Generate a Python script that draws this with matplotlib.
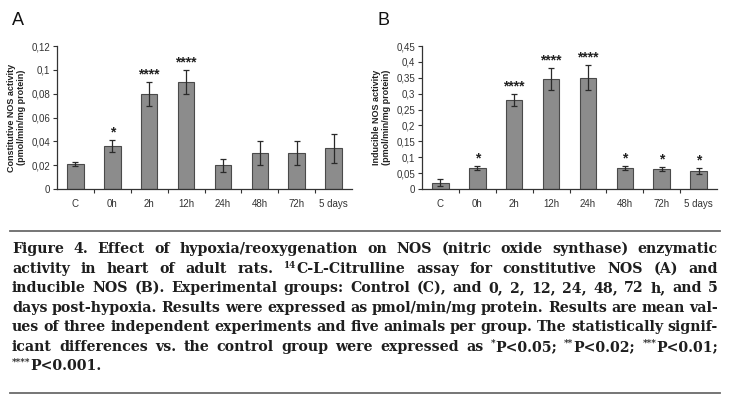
import matplotlib
matplotlib.use("Agg")
import matplotlib.pyplot as plt
from matplotlib.ticker import FixedLocator, FuncFormatter

# datos
grupos = ["C", "0h", "2h", "12h", "24h", "48h", "72h", "5 days"]

cnos_media = [0.021, 0.036, 0.080, 0.090, 0.020, 0.030, 0.030, 0.034]
cnos_err = [0.0015, 0.005, 0.010, 0.010, 0.0055, 0.010, 0.010, 0.012]
cnos_sig = ["", "*", "****", "****", "", "", "", ""]
cnos_ticks = [0, 0.02, 0.04, 0.06, 0.08, 0.1, 0.12]

inos_media = [0.020, 0.066, 0.280, 0.345, 0.350, 0.066, 0.064, 0.056]
inos_err = [0.011, 0.005, 0.020, 0.035, 0.040, 0.006, 0.006, 0.010]
inos_sig = ["", "*", "****", "****", "****", "*", "*", "*"]
inos_ticks = [0, 0.05, 0.1, 0.15, 0.2, 0.25, 0.3, 0.35, 0.4, 0.45]

caption = [
    [("Figure 4. Effect of hypoxia/reoxygenation on NOS (nitric oxide synthase) enzymatic", False)],
    [("activity in heart of adult rats. ", False), ("14", True),
     ("C-L-Citrulline assay for constitutive NOS (A) and", False)],
    [("inducible NOS (B). Experimental groups: Control (C), and 0, 2, 12, 24, 48, 72 h, and 5", False)],
    [("days post-hypoxia. Results were expressed as pmol/min/mg protein. Results are mean val-", False)],
    [("ues of three independent experiments and five animals per group. The statistically signif-", False)],
    [("icant differences vs. the control group were expressed as ", False), ("*", True),
     ("P<0.05; ", False), ("**", True), ("P<0.02; ", False), ("***", True),
     ("P<0.01;", False)],
    [("****", True), ("P<0.001.", False)],
]

W, H = 730, 397
fig = plt.figure(figsize=(W / 100, H / 100), dpi=100)
fig.patch.set_facecolor("white")
plt.rcParams["font.family"] = ["Liberation Sans", "DejaVu Sans"]


def panel(rect, medias, errs, sig, ticks, ylabel, letra, letra_x, fmt):
    ax = fig.add_axes(rect)
    x = range(len(grupos))
    ax.bar(x, medias, width=0.45, color="#8c8c8c", edgecolor="#4a4a4a",
           linewidth=0.8, zorder=2)
    ax.errorbar(x, medias, yerr=errs, fmt="none", ecolor="#2a2a2a",
                elinewidth=0.9, capsize=2.5, capthick=0.9, zorder=3)
    top = ticks[-1]
    for i, s in enumerate(sig):
        if s:
            ax.text(i, medias[i] + errs[i] + top * 0.004, s, ha="center",
                    va="bottom", fontsize=10, fontweight="bold", color="#222222")
    ax.set_xlim(-0.5, len(grupos) - 0.5)
    ax.set_ylim(0, top)
    ax.yaxis.set_major_locator(FixedLocator(ticks))
    ax.yaxis.set_major_formatter(FuncFormatter(fmt))
    ax.set_xticks(list(x))
    ax.set_xticklabels(grupos)
    ax.set_xticks([i - 0.5 for i in range(1, len(grupos))], minor=True)
    ax.tick_params(axis="x", which="major", length=0, pad=7, labelsize=7,
                   labelcolor="#333333")
    ax.tick_params(axis="x", which="minor", length=3, direction="out",
                   color="#333333", width=0.8)
    ax.tick_params(axis="y", length=3, direction="out", color="#333333",
                   width=0.8, labelsize=7, labelcolor="#333333", pad=2)
    for lado in ["top", "right"]:
        ax.spines[lado].set_visible(False)
    for lado in ["left", "bottom"]:
        ax.spines[lado].set_color("#333333")
        ax.spines[lado].set_linewidth(0.9)
    ax.set_ylabel(ylabel, fontsize=6.5, fontweight="bold", color="#222222",
                  labelpad=4, linespacing=1.1)
    fig.text(letra_x, 1 - 25 / H, letra, fontsize=13, color="#111111",
             ha="left", va="baseline")
    return ax


def coma(v, pos):
    s = ("%.2f" % v).rstrip("0").rstrip(".")
    return s.replace(".", ",")


panel([57 / W, 1 - 189 / H, 295 / W, 143 / H], cnos_media, cnos_err, cnos_sig,
      cnos_ticks, "Constitutive NOS activity\n(pmol/min/mg protein)", "A",
      12 / W, coma)
panel([422 / W, 1 - 189 / H, 295 / W, 143 / H], inos_media, inos_err, inos_sig,
      inos_ticks, "Inducible NOS activity\n(pmol/min/mg protein)", "B",
      377 / W, coma)

# reglas del pie de figura
for yy in [231, 393]:
    fig.add_artist(plt.Line2D([10 / W, 720 / W], [1 - yy / H, 1 - yy / H],
                              color="#6a6a6a", linewidth=1.3))

# pie de figura justificado, palabra por palabra
renderer = fig.canvas.get_renderer()
x0, x1 = 12, 718
base_y = [253, 273, 292, 312, 331, 351, 370]
fs = 10.2
estilo = dict(family="DejaVu Serif", fontweight="bold", color="#1e1e1e")


def medir(t):
    bb = t.get_window_extent(renderer=renderer)
    return bb.width


for n, linea in enumerate(caption):
    # separar en palabras, cada palabra con sus trozos
    palabras = [[]]
    for texto, sup in linea:
        partes = texto.split(" ")
        for k, p in enumerate(partes):
            if k > 0:
                palabras.append([])
            if p:
                palabras[-1].append((p, sup))
    palabras = [p for p in palabras if p]
    artistas = []
    anchos = []
    for pal in palabras:
        arts = []
        w = 0
        for texto, sup in pal:
            t = fig.text(0, 0, texto, fontsize=fs * (0.62 if sup else 1),
                         va="baseline", ha="left", **estilo)
            ancho = medir(t)
            arts.append((t, sup, w))
            w += ancho
        artistas.append(arts)
        anchos.append(w)
    espacio_nat = fs * 0.3 * 100 / 72
    if n < len(caption) - 1:
        hueco = (x1 - x0 - sum(anchos)) / (len(palabras) - 1)
    else:
        hueco = espacio_nat
    xx = x0
    yb = base_y[n]
    for arts, w in zip(artistas, anchos):
        for t, sup, dx in arts:
            dy = -5 if sup else 0
            t.set_position(((xx + dx) / W, 1 - (yb + dy) / H))
        xx += w + hueco

fig.savefig("out.png", dpi=100, facecolor="white")
